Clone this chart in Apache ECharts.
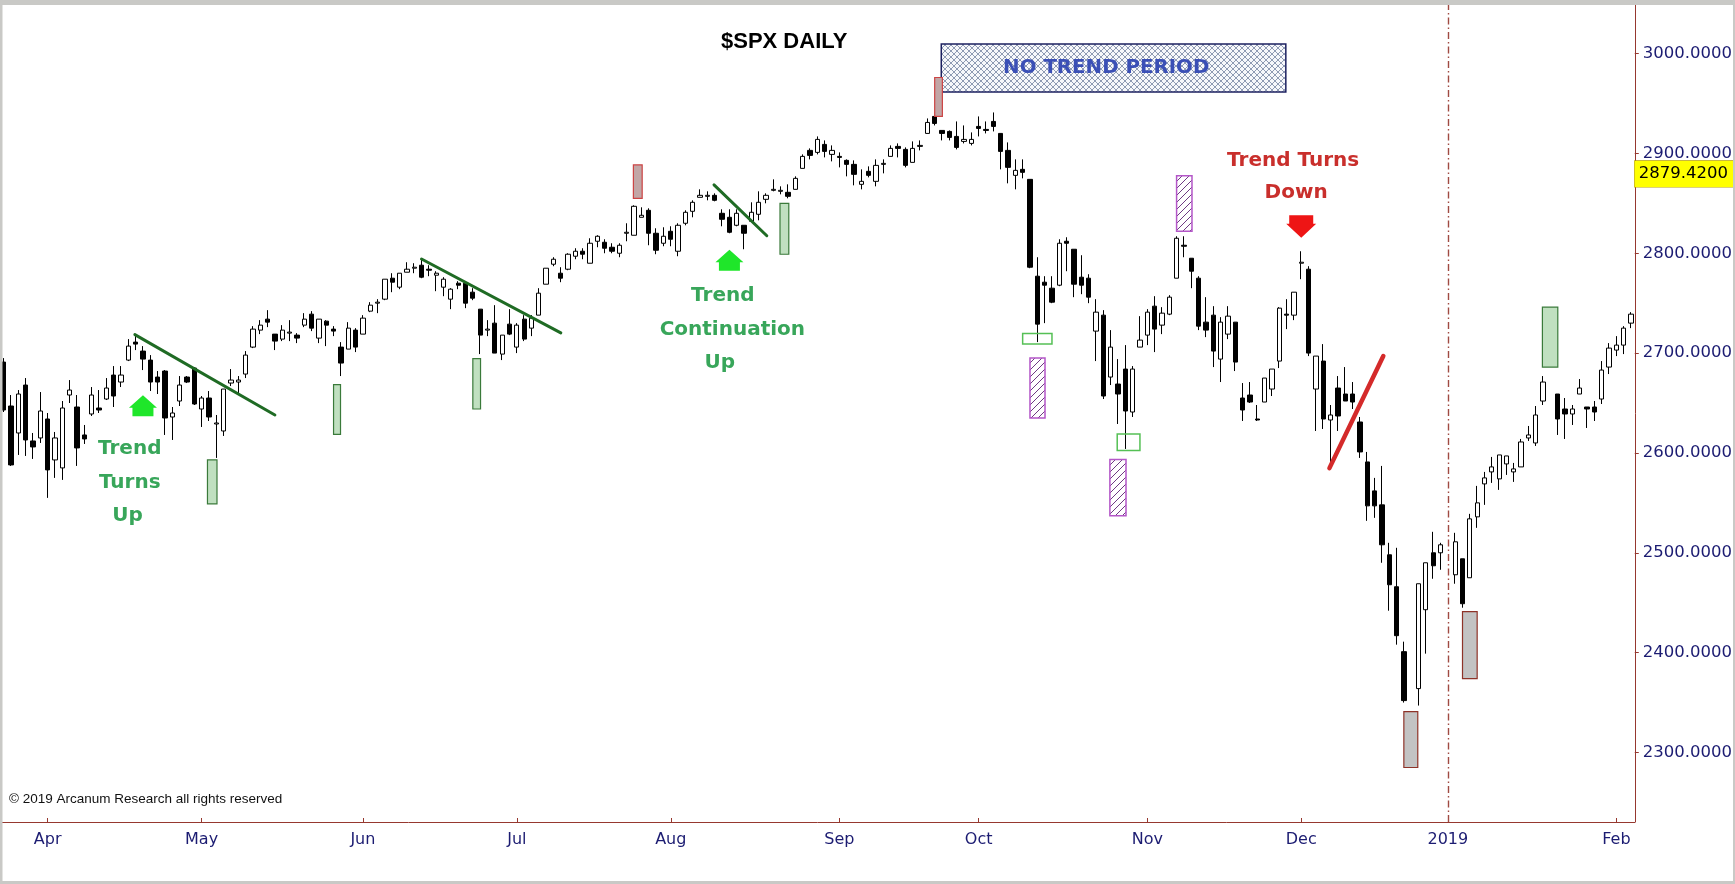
<!DOCTYPE html>
<html>
<head>
<meta charset="utf-8">
<script src="https://cdn.jsdelivr.net/npm/echarts@6/dist/echarts.min.js"></script>
<style>
html,body{margin:0;padding:0;background:#ffffff;}
#chart{width:1735px;height:884px;}
</style>
</head>
<body>
<div id="chart"></div>
<script>
// ---------------- DATA ----------------
// Trading-day slots per month (holiday slots 2018-12-25, 2019-01-01, 2019-01-21 are empty in the chart)
const tradingDays = {
  '2018-03': [22,23,26,27,28,29],
  '2018-04': [2,3,4,5,6,9,10,11,12,13,16,17,18,19,20,23,24,25,26,27,30],
  '2018-05': [1,2,3,4,7,8,9,10,11,14,15,16,17,18,21,22,23,24,25,29,30,31],
  '2018-06': [1,4,5,6,7,8,11,12,13,14,15,18,19,20,21,22,25,26,27,28,29],
  '2018-07': [2,3,5,6,9,10,11,12,13,16,17,18,19,20,23,24,25,26,27,30,31],
  '2018-08': [1,2,3,6,7,8,9,10,13,14,15,16,17,20,21,22,23,24,27,28,29,30,31],
  '2018-09': [4,5,6,7,10,11,12,13,14,17,18,19,20,21,24,25,26,27,28],
  '2018-10': [1,2,3,4,5,8,9,10,11,12,15,16,17,18,19,22,23,24,25,26,29,30,31],
  '2018-11': [1,2,5,6,7,8,9,12,13,14,15,16,19,20,21,23,26,27,28,29,30],
  '2018-12': [3,4,6,7,10,11,12,13,14,17,18,19,20,21,24,25,26,27,28,31],
  '2019-01': [1,2,3,4,7,8,9,10,11,14,15,16,17,18,21,22,23,24,25,28,29,30,31],
  '2019-02': [1,4,5]
};
const dates = [];
Object.keys(tradingDays).forEach(function (m) {
  tradingDays[m].forEach(function (d) { dates.push(m + '-' + (d < 10 ? '0' + d : '' + d)); });
});

const openPx = [
2691,2647,2620,2668,2612,2615,
2634,2593,2585,2658,2646,2618,2639,2645,2654,2678,
2671,2693,2711,2702,2693,2676,2682,2636,2652,2676,2685,
2644,2655,2629,2622,2670,2671,2679,2706,2723,2734,
2719,2714,2720,2718,2728,2739,2715,2732,2724,2706,2704,2723,
2719,2742,2750,2754,2775,2766,2781,2785,2788,2784,
2778,2766,2754,2770,2770,2761,2744,2723,2730,2699,2729,
2706,2734,2725,2738,2769,2789,2780,2784,2797,2802,
2790,2812,2811,2806,2800,2820,2818,2836,2843,2820,2810,
2822,2802,2830,2842,2856,2857,2858,2840,2836,2828,
2828,2832,2839,2854,2863,2862,2861,2864,2885,2903,
2901,2909,2899,2897,2893,2889,2869,2882,2872,2889,
2897,2907,2904,2891,2907,2920,2937,2923,2922,2917,
2912,2910,2927,2924,2932,2920,2903,2878,2884,2874,
2777,2771,2765,2768,2812,2804,2776,2775,2722,2738,
2676,2669,2684,2641,2706,2718,2747,2728,2739,2775,
2808,2795,2775,2731,2738,2694,2719,2731,2655,2658,
2634,2651,2664,2692,2739,2738,2790,2784,2664,2692,
2633,2665,2659,2659,2631,2591,2562,2548,2498,2466,
2401,null,2364,2443,2500,2500,null,2478,2494,2475,
2536,2569,2581,2574,2589,2581,2586,2615,2610,2652,
null,2659,2644,2639,2659,2646,2646,2654,2686,2703,
2708,2730
];
const closePx = [
2643,2588,2659,2613,2606,2642,
2583,2615,2645,2663,2605,2614,2658,2643,2665,2657,
2678,2707,2709,2694,2671,2671,2635,2640,2668,2671,2649,
2655,2636,2630,2664,2673,2673,2698,2724,2728,2731,
2712,2723,2721,2715,2734,2725,2734,2728,2722,2690,2725,2706,
2735,2748,2751,2774,2771,2780,2784,2786,2776,2783,
2780,2774,2764,2768,2750,2755,2718,2724,2700,2718,2719,
2728,2714,2735,2760,2785,2794,2775,2799,2802,2799,
2810,2817,2805,2802,2808,2821,2847,2838,2820,2803,2817,
2814,2828,2841,2851,2858,2858,2853,2834,2821,2840,
2820,2841,2851,2858,2864,2863,2857,2875,2897,2898,
2914,2902,2903,2896,2889,2879,2872,2878,2888,2890,
2905,2905,2888,2905,2908,2931,2930,2920,2916,2906,
2914,2914,2925,2923,2927,2902,2886,2883,2881,2786,
2729,2768,2751,2810,2810,2769,2768,2756,2741,2657,
2706,2659,2642,2684,2713,2741,2724,2740,2756,2815,
2807,2782,2727,2723,2702,2731,2737,2691,2643,2651,
2633,2675,2684,2745,2738,2761,2791,2700,2697,2634,
2638,2637,2652,2651,2601,2547,2547,2508,2468,2417,
2352,null,2469,2490,2487,2508,null,2511,2449,2534,
2550,2575,2586,2598,2597,2584,2611,2618,2638,2671,
null,2634,2639,2644,2665,2644,2641,2683,2705,2708,
2725,2739
];
const highPx = [
2695,2658,2663,2675,2620,2661,
2640,2621,2652,2673,2658,2628,2666,2663,2675,2687,
2687,2714,2719,2707,2698,2682,2683,2646,2677,2677,2686,
2657,2662,2638,2664,2684,2677,2702,2727,2733,2743,
2719,2728,2733,2720,2740,2742,2734,2733,2727,2711,2731,2725,
2738,2751,2754,2774,2780,2780,2791,2790,2794,2788,
2782,2776,2765,2772,2772,2765,2744,2733,2748,2718,2744,
2730,2738,2738,2765,2785,2796,2786,2800,2805,2805,
2815,2818,2814,2810,2810,2830,2848,2846,2845,2825,2826,
2827,2830,2843,2853,2864,2862,2860,2844,2844,2844,
2828,2851,2862,2860,2874,2867,2869,2877,2899,2905,
2917,2913,2908,2901,2894,2893,2884,2887,2894,2894,
2908,2910,2906,2912,2913,2935,2937,2923,2923,2932,
2928,2921,2937,2932,2941,2920,2911,2894,2894,2874,
2796,2777,2777,2814,2816,2804,2798,2779,2754,2743,
2723,2694,2708,2687,2737,2744,2757,2746,2758,2817,
2817,2795,2777,2756,2747,2736,2747,2731,2670,2671,
2648,2675,2684,2746,2754,2761,2802,2787,2697,2709,
2648,2677,2686,2671,2636,2601,2575,2587,2510,2505,
2411,null,2469,2490,2521,2510,null,2520,2494,2539,
2567,2581,2596,2598,2597,2590,2614,2627,2647,2677,
null,2659,2655,2648,2674,2646,2652,2692,2710,2717,
2727,2741
];
const lowPx = [
2641,2587,2598,2597,2594,2610,
2555,2575,2573,2650,2587,2609,2637,2640,2653,2646,
2666,2692,2703,2683,2662,2659,2618,2613,2647,2670,2648,
2626,2632,2595,2617,2667,2660,2675,2705,2719,2726,
2703,2712,2712,2710,2726,2722,2710,2707,2717,2677,2704,2701,
2719,2741,2740,2753,2761,2764,2781,2780,2775,2777,
2762,2757,2744,2764,2745,2753,2699,2717,2700,2693,2718,
2700,2712,2717,2738,2769,2787,2771,2783,2794,2794,
2790,2806,2800,2800,2796,2812,2818,2836,2808,2799,2807,
2807,2797,2828,2836,2856,2853,2852,2827,2820,2827,
2804,2832,2833,2850,2862,2859,2855,2864,2885,2894,
2899,2896,2892,2886,2877,2868,2864,2876,2867,2880,
2897,2896,2886,2891,2903,2920,2928,2913,2913,2904,
2910,2908,2917,2920,2922,2884,2870,2864,2875,2785,
2711,2730,2750,2767,2782,2756,2759,2750,2692,2654,
2668,2629,2604,2636,2706,2708,2701,2719,2738,2775,
2796,2765,2723,2716,2686,2671,2714,2682,2632,2650,
2632,2651,2657,2685,2724,2733,2774,2697,2622,2624,
2585,2622,2652,2644,2595,2532,2535,2490,2442,2408,
2350,null,2347,2399,2474,2483,null,2469,2445,2475,
2525,2548,2570,2563,2578,2571,2586,2612,2607,2648,
null,2618,2614,2628,2659,2625,2632,2649,2679,2697,
2699,2725
];

// Price scale tick labels (every 100 points) and highlighted price
const priceTickStep = 100;
const lastPriceLabel = 2879.42;
const yearDividerDate = '2019-01-01';

// Marker boxes: [startSlot, endSlot, low, high, kind]
const markerBoxes = [
  [27.8, 29.1, 2549, 2593, 'green'],
  [45.0, 45.95, 2618.5, 2668.5, 'green'],
  [64.0, 65.05, 2644, 2694.5, 'green'],
  [85.9, 87.1, 2855, 2888.5, 'rose'],
  [105.9, 107.1, 2799, 2850, 'green'],
  [127.0, 128.05, 2937, 2976, 'rose'],
  [139.0, 143.0, 2709, 2719.5, 'hollow'],
  [140.0, 142.05, 2635, 2695, 'purple'],
  [150.9, 153.1, 2537, 2593.5, 'purple'],
  [151.9, 155.0, 2602.5, 2619, 'hollow'],
  [160.0, 162.1, 2822, 2877.5, 'purple'],
  [191.0, 192.9, 2285, 2341, 'gray'],
  [199.0, 201.0, 2374, 2441, 'gray'],
  [209.9, 212.0, 2686, 2746, 'green']
];
// "No trend period" region: [startSlot, endSlot, low, high]
const noTrendBox = [127.9, 174.9, 2961.5, 3009.5];

// Trend lines: [slot0, value0, slot1, value1, kind]
const trendLines = [
  [17.9, 2718.5, 37.0, 2638, 'green'],
  [57.0, 2794.2, 76.0, 2720.2, 'green'],
  [96.9, 2868.5, 104.1, 2817.5, 'green'],
  [180.85, 2584.8, 188.2, 2697.1, 'red']
];
// Arrows: [slot, value at top edge, direction]
const arrows = [
  [19.0, 2657.8, 'up'],
  [99.0, 2803.5, 'up'],
  [177.0, 2838, 'down']
];
// Annotation text lines: [slot, value, text, kind]
const notes = [
  [17.2, 2604, 'Trend', 'green'],
  [17.2, 2570, 'Turns', 'green'],
  [16.9, 2537.5, 'Up', 'green'],
  [98.1, 2757.5, 'Trend', 'green'],
  [99.4, 2723.8, 'Continuation', 'green'],
  [97.7, 2690.5, 'Up', 'green'],
  [175.9, 2893, 'Trend Turns', 'red'],
  [176.3, 2860.5, 'Down', 'red'],
  [150.4, 2985.5, 'NO TREND PERIOD', 'blue']
];

// ---------------- STYLES ----------------
const monthNames = ['Jan','Feb','Mar','Apr','May','Jun','Jul','Aug','Sep','Oct','Nov','Dec'];
const AXIS_RED = '#96382f';
const LABEL_NAVY = '#1c1c72';

function makePattern(size, bg, stroke, lw, draw) {
  const c = document.createElement('canvas');
  c.width = size; c.height = size;
  const g = c.getContext('2d');
  g.fillStyle = bg; g.fillRect(0, 0, size, size);
  g.strokeStyle = stroke; g.lineWidth = lw;
  draw(g, size);
  return { image: c, repeat: 'repeat' };
}
const crossHatch = makePattern(6, '#f7f8fb', '#8f9bb3', 1, function (g, s) {
  g.beginPath(); g.moveTo(0, 0); g.lineTo(s, s); g.moveTo(s, 0); g.lineTo(0, s); g.stroke();
});
const purpleHatch = makePattern(7, '#ffffff', '#6e3a82', 1, function (g, s) {
  g.beginPath(); g.moveTo(0, s); g.lineTo(s, 0);
  g.moveTo(-1, 1); g.lineTo(1, -1); g.moveTo(s - 1, s + 1); g.lineTo(s + 1, s - 1); g.stroke();
});

const boxStyles = {
  green:  { fill: '#c0e0c0', stroke: '#3a7a3a', lw: 1.2 },
  rose:   { fill: '#c2a6a6', stroke: '#cc4444', lw: 1.2 },
  gray:   { fill: '#c3c3c3', stroke: '#8e3328', lw: 1.2 },
  purple: { fill: purpleHatch, stroke: '#b457c8', lw: 1.5 },
  hollow: { fill: 'rgba(255,255,255,0)', stroke: '#55c055', lw: 1.5 }
};
const noteColors = { green: '#38a65a', red: '#c92f2c', blue: '#3a4fb6' };
const lineColors = { green: '#1f6b24', red: '#d42a2a' };

// ---------------- HELPERS ----------------
function isMonthStart(idx) {
  return idx > 0 && dates[idx].slice(0, 7) !== dates[idx - 1].slice(0, 7);
}
function xAt(api, slot) {
  const i0 = Math.floor(slot);
  const a = api.coord([i0, 2500])[0];
  const b = api.coord([i0 + 1, 2500])[0];
  return a + (slot - i0) * (b - a);
}
function yAt(api, v) { return api.coord([0, v])[1]; }

const candleData = dates.map(function (d, i) {
  if (openPx[i] == null) return ['-', '-', '-', '-'];
  return [openPx[i], closePx[i], lowPx[i], highPx[i]];
});

const chart = echarts.init(document.getElementById('chart'), null, { renderer: 'canvas' });

const option = {
  animation: false,
  backgroundColor: '#ffffff',
  title: {
    text: '$SPX DAILY',
    left: 721, top: 29, padding: 0,
    textStyle: { fontFamily: 'Liberation Sans', fontSize: 22, fontWeight: 'bold', color: '#000000', lineHeight: 26 }
  },
  grid: { left: -1.7, right: 98.3, top: 5, bottom: 62, containLabel: false },
  xAxis: {
    type: 'category',
    data: dates,
    boundaryGap: true,
    axisLine: { show: true, lineStyle: { color: AXIS_RED, width: 1 } },
    axisTick: {
      show: true, alignWithLabel: true, inside: true, length: 4,
      interval: function (idx) { return isMonthStart(idx); },
      lineStyle: { color: AXIS_RED }
    },
    axisLabel: {
      interval: function (idx) { return isMonthStart(idx); },
      formatter: function (val) {
        const m = parseInt(val.slice(5, 7), 10);
        return m === 1 ? val.slice(0, 4) : monthNames[m - 1];
      },
      color: LABEL_NAVY, fontFamily: 'DejaVu Sans', fontSize: 16, margin: 10
    },
    splitLine: { show: false }
  },
  yAxis: {
    type: 'value',
    position: 'right',
    min: 2230.4, max: 3048.6,
    splitNumber: 8,
    scale: true,
    axisLine: { show: true, lineStyle: { color: AXIS_RED, width: 1 } },
    axisTick: { show: true, inside: false, length: 4, lineStyle: { color: AXIS_RED } },
    axisLabel: {
      color: LABEL_NAVY, fontFamily: 'DejaVu Sans', fontSize: 16.5, margin: 8,
      showMinLabel: false, showMaxLabel: false,
      formatter: function (v) {
        return Math.abs(v / priceTickStep - Math.round(v / priceTickStep)) < 1e-6 ? v.toFixed(4) : '';
      }
    },
    splitLine: { show: false }
  },
  series: [
    {
      type: 'candlestick',
      name: '$SPX',
      data: candleData,
      barWidth: 4.8,
      itemStyle: {
        color: '#ffffff', color0: '#000000',
        borderColor: '#000000', borderColor0: '#000000', borderWidth: 1
      },
      markLine: {
        silent: true,
        symbol: ['none', 'none'],
        animation: false,
        data: [
          {
            xAxis: yearDividerDate,
            lineStyle: { color: '#a04a42', width: 1.4, type: [7, 3, 1.5, 3] },
            label: { show: false }
          },
          {
            yAxis: lastPriceLabel,
            lineStyle: { color: 'rgba(255,255,255,0)', width: 1 },
            label: {
              show: true, position: 'end', distance: 0,
              formatter: function () { return lastPriceLabel.toFixed(4); },
              backgroundColor: '#ffff00', color: '#000000',
              borderColor: '#b8a000', borderWidth: 0.6,
              fontFamily: 'DejaVu Sans', fontSize: 16.5,
              padding: [5, 6, 4, 4]
            }
          }
        ]
      }
    },
    {
      type: 'custom', name: 'noTrend', silent: true, z: 3,
      data: [[Math.round(noTrendBox[0]), noTrendBox[3]]],
      encode: { x: 0, y: 1 },
      renderItem: function (params, api) {
        const x0 = xAt(api, noTrendBox[0]), x1 = xAt(api, noTrendBox[1]);
        const yT = yAt(api, noTrendBox[3]), yB = yAt(api, noTrendBox[2]);
        return { type: 'rect', shape: { x: x0, y: yT, width: x1 - x0, height: yB - yT },
          style: { fill: crossHatch, stroke: '#1d2160', lineWidth: 1.5 } };
      }
    },
    {
      type: 'custom', name: 'markers', silent: true, z: 3,
      data: markerBoxes.map(function (b) { return [Math.round(b[0]), b[3]]; }),
      encode: { x: 0, y: 1 },
      renderItem: function (params, api) {
        const b = markerBoxes[params.dataIndex];
        const x0 = xAt(api, b[0]), x1 = xAt(api, b[1]);
        const yT = yAt(api, b[3]), yB = yAt(api, b[2]);
        const st = boxStyles[b[4]];
        return { type: 'rect', shape: { x: x0, y: yT, width: x1 - x0, height: yB - yT },
          style: { fill: st.fill, stroke: st.stroke, lineWidth: st.lw } };
      }
    },
    {
      type: 'custom', name: 'trendLines', silent: true, z: 4,
      data: trendLines.map(function (l) { return [Math.round(l[0]), l[1]]; }),
      encode: { x: 0, y: 1 },
      renderItem: function (params, api) {
        const l = trendLines[params.dataIndex];
        return { type: 'line',
          shape: { x1: xAt(api, l[0]), y1: yAt(api, l[1]), x2: xAt(api, l[2]), y2: yAt(api, l[3]) },
          style: { stroke: lineColors[l[4]], lineWidth: l[4] === 'red' ? 4.5 : 3, lineCap: 'round' } };
      }
    },
    {
      type: 'custom', name: 'arrows', silent: true, z: 4,
      data: arrows.map(function (a) { return [Math.round(a[0]), a[1]]; }),
      encode: { x: 0, y: 1 },
      renderItem: function (params, api) {
        const a = arrows[params.dataIndex];
        const cx = xAt(api, a[0]), t = yAt(api, a[1]);
        let pts, fill;
        if (a[2] === 'up') {
          pts = [[cx, t], [cx + 14, t + 12.5], [cx + 10.5, t + 12.5], [cx + 10.5, t + 21],
                 [cx - 10.5, t + 21], [cx - 10.5, t + 12.5], [cx - 14, t + 12.5]];
          fill = '#1fe62a';
        } else {
          pts = [[cx - 12, t], [cx + 12, t], [cx + 12, t + 8.5], [cx + 15, t + 8.5],
                 [cx, t + 22.5], [cx - 15, t + 8.5], [cx - 12, t + 8.5]];
          fill = '#ee1515';
        }
        return { type: 'polygon', shape: { points: pts }, style: { fill: fill } };
      }
    },
    {
      type: 'custom', name: 'notes', silent: true, z: 6,
      data: notes.map(function (n) { return [Math.round(n[0]), n[1]]; }),
      encode: { x: 0, y: 1 },
      renderItem: function (params, api) {
        const n = notes[params.dataIndex];
        return { type: 'text', x: xAt(api, n[0]), y: yAt(api, n[1]),
          style: { text: n[2], fill: noteColors[n[3]], fontFamily: 'DejaVu Sans', fontWeight: 'bold',
            fontSize: n[3] === 'blue' ? 19.8 : 20, align: 'center', verticalAlign: 'middle' } };
      }
    }
  ],
  graphic: [
    { type: 'text', x: 9, y: 799, z: 50,
      style: { text: '\u00a9 2019 Arcanum Research all rights reserved', fill: '#111111',
        fontFamily: 'Liberation Sans', fontSize: 13.5, verticalAlign: 'middle', align: 'left' } },
    { type: 'rect', z: 100, shape: { x: 0, y: 0, width: 1735, height: 5 }, style: { fill: '#c9c9c6' } },
    { type: 'rect', z: 100, shape: { x: 0, y: 0, width: 2.5, height: 884 }, style: { fill: '#c9c9c6' } },
    { type: 'rect', z: 100, shape: { x: 1733, y: 0, width: 2, height: 884 }, style: { fill: '#c9c9c6' } },
    { type: 'rect', z: 100, shape: { x: 0, y: 881, width: 1735, height: 3 }, style: { fill: '#c9c9c6' } }
  ]
};
chart.setOption(option);
</script>
</body>
</html>
